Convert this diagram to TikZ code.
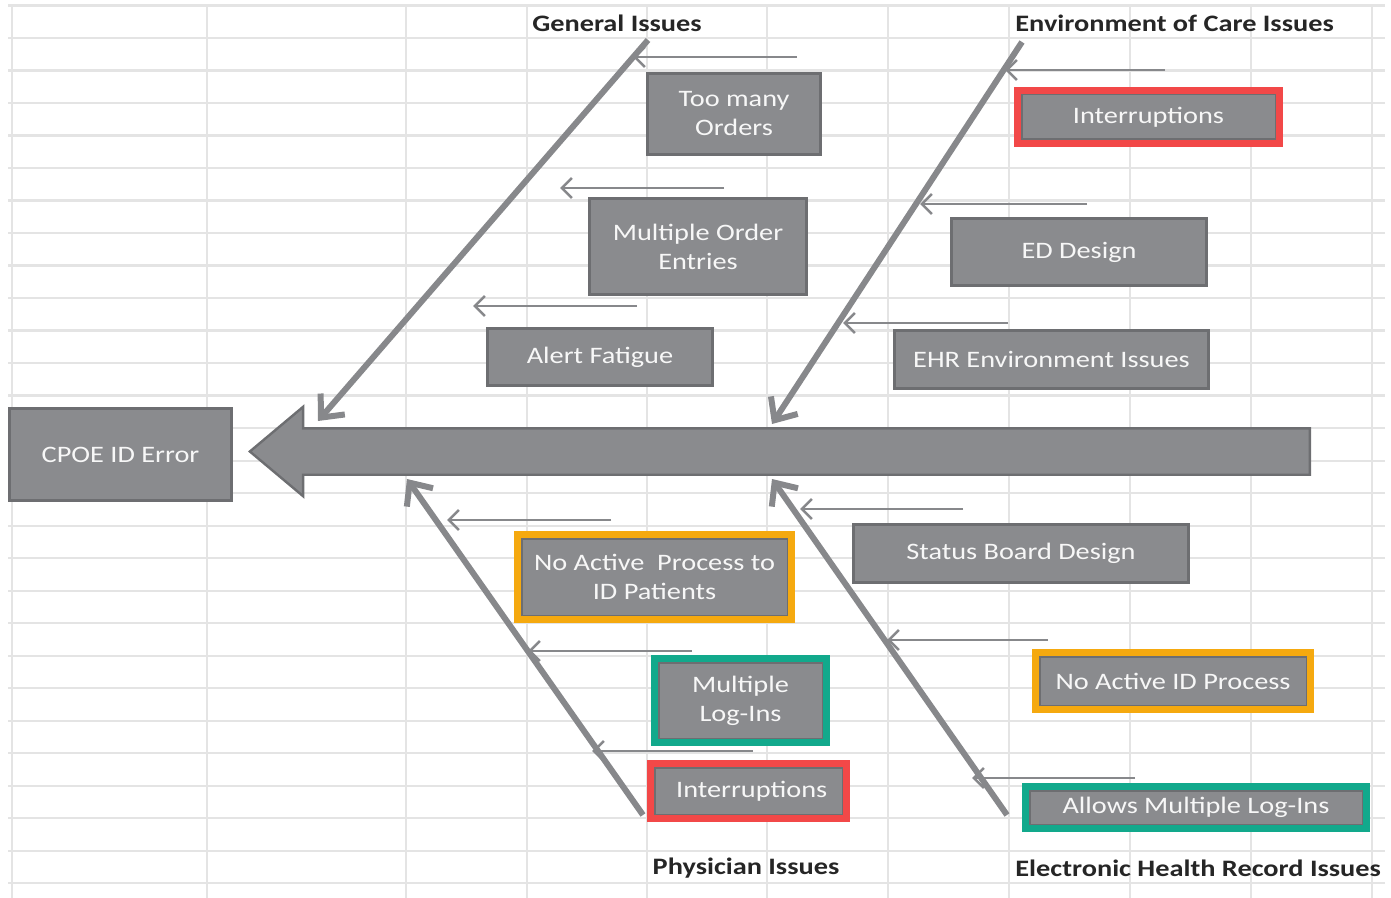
\documentclass[tikz,border=0pt]{standalone}
\usepackage{fontspec}
\setmainfont{Carlito}[FakeStretch=1.2]
\usepackage{xcolor}
\usepackage{tikz}
\usetikzlibrary{arrows.meta,positioning,shapes.arrows}
\definecolor{boxgray}{HTML}{8A8B8E}
\definecolor{boxedge}{HTML}{6D6E71}
\definecolor{bonegray}{HTML}{87888B}
\definecolor{gridgray}{HTML}{E4E4E4}
\definecolor{flagred}{HTML}{F24848}
\definecolor{flagorange}{HTML}{F5A90F}
\definecolor{flagteal}{HTML}{12A98C}
\tikzset{
  cause/.style={draw=boxedge, line width=1.5pt, fill=boxgray, text=white!94!gray,
                align=center, inner sep=0pt, font=\fontsize{11.8}{14.5}\selectfont},
  flagged/.style={cause, draw=#1, line width=3.5pt,
                  path picture={\draw[boxedge, line width=5pt] (path picture bounding box.south west)
                                rectangle (path picture bounding box.north east);}},
  cat/.style={font=\fontsize{11.8}{14}\selectfont\bfseries, text=black!85, inner sep=0pt},
  bone/.style={draw=bonegray, line width=3pt, -{Straight Barb[length=9pt,width=16pt]}},
  twig/.style={draw=bonegray, line width=1.3pt, -{Straight Barb[length=5pt,width=10pt]}},
  spine/.style={single arrow, shape border rotate=180, fill=boxgray, draw=boxedge,
                line width=1.2pt, inner xsep=0pt, inner ysep=11pt, minimum height=530pt,
                single arrow head extend=10.75pt, single arrow tip angle=80},
  gridline/.style={draw=gridgray, line width=1.2pt}
}
\begin{document}
\begin{tikzpicture}[x=0.5pt, y=-0.5pt]
\useasboundingbox (0,0) rectangle (1391,898);
\foreach \k in {0,...,27}
  \draw[gridline] (8,{5.7+32.5*\k}) -- (1385,{5.7+32.5*\k});
\foreach \gx in {11.7,207,406,527,647,767,888,1009,1130,1251,1372}
  \draw[gridline] (\gx,5) -- (\gx,898);

\node[cause, minimum width=111pt, minimum height=46pt] (cpoe) at (120.5,454.5) {CPOE ID Error};
\node[spine, anchor=tip] (spine) at (248,451.5) {};

\node[cat] (gen) at (617,23) {General Issues};
\node[cat, anchor=west] (env) at (1015,23) {Environment of Care Issues};
\node[cat] (phys) at (746,868) {Physician Issues};
\node[cat, anchor=west] (ehr) at (1015,868) {Electronic Health Record Issues};

\coordinate (gtop) at (648,40);
\coordinate (gtip) at (318,421);
\coordinate (etop) at (1022,42);
\coordinate (etip) at (772,424);
\coordinate (pbot) at (643,815);
\coordinate (ptip) at (407,479);
\coordinate (rbot) at (1007,815);
\coordinate (rtip) at (772,479);
\draw[bone] (gtop) -- (gtip);
\draw[bone] (etop) -- (etip);
\draw[bone] (pbot) -- (ptip);
\draw[bone] (rbot) -- (rtip);

\foreach \xs/\xe/\ty [count=\i] in {797/633/57, 724/560/188, 637/473/306,
    1165/1005/70, 1087/920/204, 1008/843/323,
    611/447/520, 692/528/651, 753/592/751,
    963/800/509, 1048/887/640, 1135/972/778} {
  \coordinate (t\i s) at (\xs,\ty);
  \coordinate (t\i e) at (\xe,\ty);
  \draw[twig] (t\i s) -- (t\i e);
}

\node[cause, minimum width=86.5pt, minimum height=40.5pt] (many) at (734,114) {Too many\\Orders};
\node[cause, minimum width=108.5pt, minimum height=48pt] (multi) at (698,246.5) {Multiple Order\\Entries};
\node[cause, minimum width=112.5pt, minimum height=28.5pt] (alert) at (600,357) {Alert Fatigue};

\node[flagged=flagred, minimum width=131pt, minimum height=26.5pt] (intenv) at (1148.5,117) {Interruptions};
\node[cause, minimum width=127.5pt, minimum height=33.5pt] (ed) at (1079,252) {ED Design};
\node[cause, minimum width=157pt, minimum height=29pt] (ehrenv) at (1051.5,359.5) {EHR Environment Issues};

\node[flagged=flagorange, minimum width=137pt, minimum height=42.5pt] (noproc) at (654.5,577) {No Active~ Process to\\ID Patients};
\node[flagged=flagteal, minimum width=86pt, minimum height=42pt] (mlog) at (740.5,700.5) {Multiple\\Log-Ins};
\node[flagged=flagred, minimum width=98pt, minimum height=27.5pt] (intphys) at (748.5,791) {~Interruptions};

\node[cause, minimum width=167.5pt, minimum height=29pt] (status) at (1021,553.5) {Status Board Design};
\node[flagged=flagorange, minimum width=137.5pt, minimum height=28.5pt] (noid) at (1173,681) {No Active ID Process};
\node[flagged=flagteal, minimum width=170.5pt, minimum height=21pt] (allows) at (1196,807.5) {Allows Multiple Log-Ins};
\end{tikzpicture}
\end{document}
